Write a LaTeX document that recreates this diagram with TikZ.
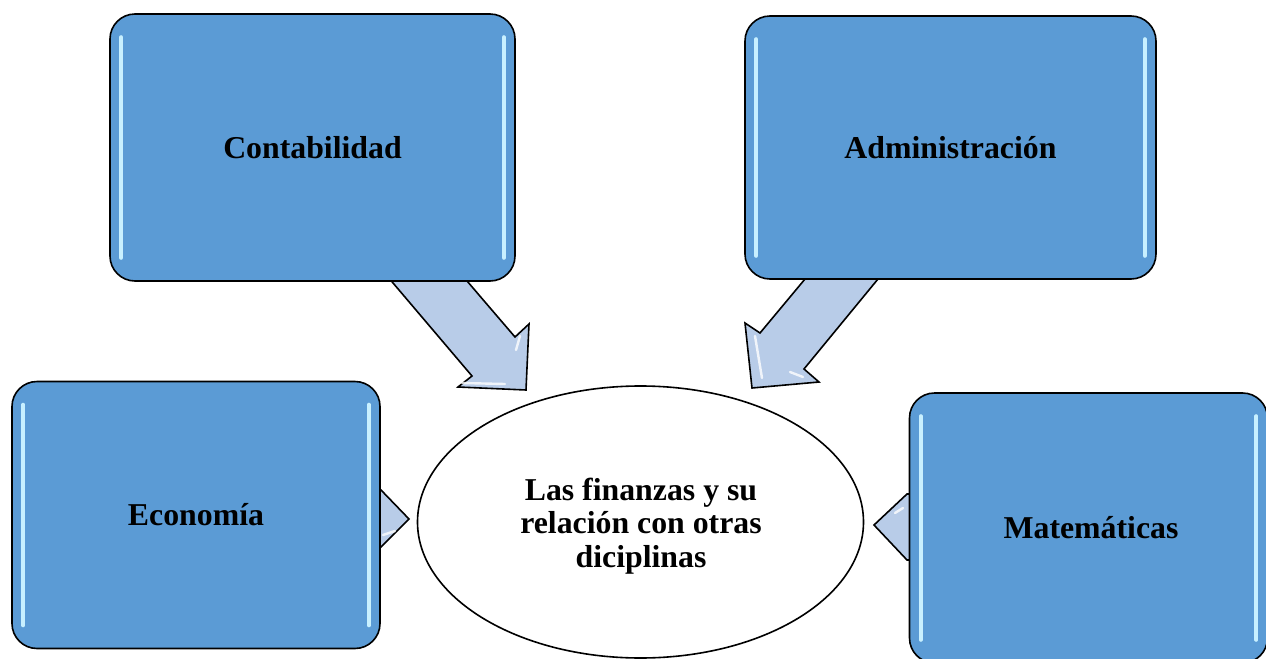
\documentclass[tikz,border=0pt]{standalone}
\usepackage{fontspec}
\setmainfont{Liberation Serif}
\usetikzlibrary{shapes.geometric}
\definecolor{boxblue}{RGB}{91,155,213}
\definecolor{arrowblue}{RGB}{184,204,232}
\definecolor{hilite}{RGB}{200,240,255}
\begin{document}
\begin{tikzpicture}[x=0.5pt,y=-0.5pt,
  box/.style={draw=black, line width=0.8pt, fill=boxblue, rounded corners=12.5pt,
    font=\fontsize{15.9}{16.75}\selectfont\bfseries, inner sep=0pt},
  blockarrow/.style={draw=black, line width=0.8pt, fill=arrowblue, line join=miter},
  hl/.style={draw=hilite, line width=2pt, line cap=round},
  gl/.style={draw=white, line width=1.2pt, line cap=round, opacity=0.8},
  center/.style={draw=black, line width=0.8pt, fill=white, ellipse, inner sep=0pt,
    minimum width=223pt, minimum height=136pt},
  centertext/.style={align=center, inner sep=0pt,
    font=\fontsize{15.9}{16.75}\selectfont\bfseries}]
\useasboundingbox (0,0) rectangle (1266,659);
\clip (0,0) rectangle (1266,659);

% block arrows (drawn first, boxes cover their tails)
\draw[blockarrow] (382,270) -- (472,376) -- (458,387) -- (526,390) -- (529,324) -- (515,337) -- (457.6,270) -- cycle;
\draw[gl] (462,383) -- (505,384);
\draw[gl] (520,336) -- (516,350);
\draw[blockarrow] (812.5,270) -- (760,333) -- (745,323) -- (752,388) -- (819,382) -- (804,369) -- (885.4,270) -- cycle;
\draw[gl] (755,336) -- (762,378);
\draw[gl] (790,372) -- (803,377);
\draw[blockarrow] (372,490) -- (381,490) -- (409,519) -- (381,547) -- (372,547) -- cycle;
\draw[gl] (383,535) -- (395,531);
\draw[blockarrow] (916,494) -- (907,494) -- (874,525) -- (907,560) -- (916,560) -- cycle;
\draw[gl] (895,513) -- (903,508);

% boxes
\node[box, minimum width=202.5pt, minimum height=133.5pt] (cont) at (312.5,147.5) {Contabilidad};
\node[box, minimum width=205.5pt, minimum height=131.5pt] (admin) at (950.5,147.5) {Administración};
\node[box, minimum width=184pt, minimum height=133.5pt] (econ) at (196,515) {Economía};
\node[box, minimum width=179pt, minimum height=135pt] (mate) at (1088.5,528) {};
\node[font=\fontsize{15.9}{16.75}\selectfont\bfseries] (matetext) at (1091,528) {Matemáticas};

% glossy highlights
\foreach \b in {cont,admin,econ,mate}{
  \draw[hl] ([xshift=6pt,yshift=-12pt]\b.north west) -- ([xshift=6pt,yshift=12pt]\b.south west);
  \draw[hl] ([xshift=-6pt,yshift=-12pt]\b.north east) -- ([xshift=-6pt,yshift=12pt]\b.south east);
}

% centre ellipse
\node[center] (fin) at (640.5,522) {};
\node[centertext] (fintext) at (641,526) {Las finanzas y su\\relación con otras\\diciplinas};
\end{tikzpicture}
\end{document}
